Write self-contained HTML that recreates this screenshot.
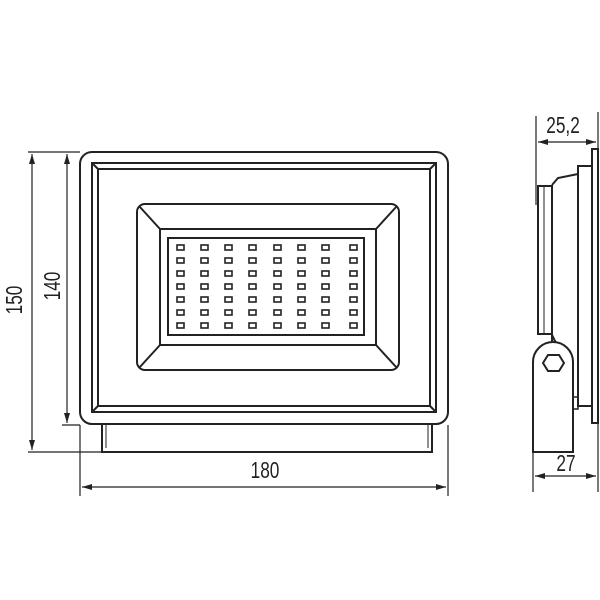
<!DOCTYPE html>
<html><head><style>html,body{margin:0;padding:0;background:#fff}svg{display:block}</style></head>
<body>
<svg width="600" height="600" viewBox="0 0 600 600" xmlns="http://www.w3.org/2000/svg">
<defs>
<marker id="a" markerWidth="10" markerHeight="6" refX="10" refY="3" orient="auto-start-reverse" markerUnits="userSpaceOnUse"><path d="M0,0 L10,3 L0,6 Z" fill="#222"/></marker>
</defs>
<g fill="none" stroke="#222" stroke-width="2">
<rect x="102" y="422" width="330" height="30"/>
<line x1="106" y1="424" x2="106" y2="448" stroke-width="1"/>
<line x1="428" y1="424" x2="428" y2="448" stroke-width="1"/>
<rect x="80" y="152" width="368" height="272" rx="12" fill="#fff"/>
<rect x="92" y="163" width="344" height="249"/>
<rect x="98" y="169" width="332" height="237"/>
<line x1="92" y1="163" x2="98" y2="169"/><line x1="436" y1="163" x2="430" y2="169"/>
<line x1="92" y1="412" x2="98" y2="406"/><line x1="436" y1="412" x2="430" y2="406"/>
<rect x="137" y="204" width="262" height="166" rx="8"/>
<rect x="160" y="229" width="216" height="116"/>
<line x1="139" y1="206" x2="160" y2="229"/><line x1="397" y1="206" x2="376" y2="229"/>
<line x1="139" y1="368" x2="160" y2="345"/><line x1="397" y1="368" x2="376" y2="345"/>
<rect x="168" y="238" width="196" height="97"/>
</g>
<g fill="none" stroke="#222" stroke-width="1.6">
<g id="r">
<rect x="177" y="245" width="7" height="5"/><rect x="201" y="245" width="7" height="5"/><rect x="225" y="245" width="7" height="5"/><rect x="249" y="245" width="7" height="5"/><rect x="274" y="245" width="7" height="5"/><rect x="298" y="245" width="7" height="5"/><rect x="322" y="245" width="7" height="5"/><rect x="350" y="245" width="7" height="5"/>
</g>
<use href="#r" y="13"/><use href="#r" y="26"/><use href="#r" y="39"/><use href="#r" y="52"/><use href="#r" y="65"/><use href="#r" y="78"/>
</g>
<g stroke="#222" stroke-width="1.2" fill="none">
<line x1="28" y1="152" x2="80" y2="152"/>
<line x1="28" y1="452" x2="102" y2="452"/>
<line x1="62" y1="425" x2="80" y2="425"/>
<line x1="32" y1="154" x2="32" y2="450" marker-start="url(#a)" marker-end="url(#a)"/>
<line x1="67" y1="154" x2="67" y2="423" marker-start="url(#a)" marker-end="url(#a)"/>
<line x1="80" y1="425" x2="80" y2="496"/>
<line x1="448" y1="425" x2="448" y2="496"/>
<line x1="82" y1="487" x2="446" y2="487" marker-start="url(#a)" marker-end="url(#a)"/>
<line x1="536" y1="116" x2="536" y2="205"/>
<line x1="598" y1="112" x2="598" y2="148"/>
<line x1="538" y1="142" x2="596" y2="142" marker-start="url(#a)" marker-end="url(#a)"/>
<line x1="533" y1="452" x2="533" y2="492"/>
<line x1="598" y1="423" x2="598" y2="492"/>
<line x1="535" y1="476" x2="596" y2="476" marker-start="url(#a)" marker-end="url(#a)"/>
</g>
<g fill="none" stroke="#222" stroke-width="2">
<rect x="592" y="149" width="6" height="274"/>
<rect x="578" y="166" width="14" height="240"/>
<path d="M552,185 L552,345 M552,185 L558,178 L578,174 M552,335 L556,343"/>
<rect x="538" y="186" width="14" height="148"/>
<line x1="544" y1="186" x2="544" y2="334" stroke-width="1"/>
<path d="M533,452 L533,362 A20,20 0 0 1 573,362 L573,452 Z" fill="#fff"/>
<polygon points="543,363 548,355 559,355 564,363 559,371 548,371"/>
<rect x="573" y="397" width="5" height="12" stroke-width="1.5"/>
</g>
<g font-family="Liberation Sans, sans-serif" font-size="23" fill="#222" text-anchor="middle">
<text transform="translate(265,478) scale(0.75,1)">180</text>
<text transform="translate(22,300) rotate(-90) scale(0.75,1)">150</text>
<text transform="translate(60,286) rotate(-90) scale(0.75,1)">140</text>
<text transform="translate(563,133) scale(0.75,1)">25,2</text>
<text transform="translate(566,471) scale(0.75,1)">27</text>
</g>
</svg>
</body></html>
